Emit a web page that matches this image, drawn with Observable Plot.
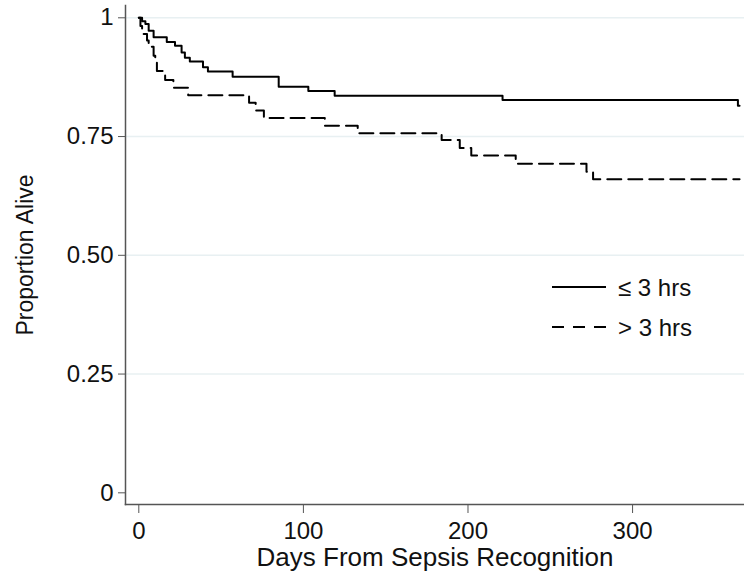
<!DOCTYPE html>
<html><head><meta charset="utf-8">
<script src="https://cdn.jsdelivr.net/npm/d3@7"></script>
<script src="https://cdn.jsdelivr.net/npm/@observablehq/plot@0.6"></script>
<style>
body{margin:0;background:#fff;}
#chart{position:relative;width:744px;height:580px;font-family:"Liberation Sans",Arial,sans-serif;}
#legend{position:absolute;left:548px;top:268px;}
</style>
</head><body><div id="chart"></div>
<script>
const groups = ["≤ 3 hrs", "> 3 hrs"];
const earlyDays = [0,2,4,6,9,17,22,26,28,31,39,42,57,85,103,119,221,364,365];
const earlySurv = [1,0.993,0.987,0.973,0.959,0.949,0.941,0.927,0.916,0.908,0.896,0.887,0.876,0.855,0.846,0.836,0.827,0.815,0.815];
const lateDays = [0,1,2,5,6,9,10,11,16,21,30,67,71,76,113,133,184,195,202,229,272,276,365];
const lateSurv = [1,0.983,0.966,0.952,0.939,0.92,0.91,0.888,0.869,0.853,0.837,0.821,0.805,0.789,0.773,0.757,0.743,0.726,0.71,0.693,0.676,0.66,0.66];
const xTicks = [0,100,200,300];
const yTicks = [0,0.25,0.5,0.75,1];
const yTickLabels = ["0","0.25","0.50","0.75","1"];
const xTitle = "Days From Sepsis Recognition";
const yTitle = "Proportion Alive";

const rows = [
  ...earlyDays.map((d,i)=>({group:groups[0], day:d, s:earlySurv[i]})),
  ...lateDays.map((d,i)=>({group:groups[1], day:d, s:lateSurv[i]}))
];

const chart = Plot.plot({
  width: 744, height: 580,
  marginLeft: 125, marginRight: 0, marginTop: 5, marginBottom: 76,
  style: {fontFamily: '"Liberation Sans", Arial, sans-serif', background: "#fff"},
  x: {domain: [-8.08, 368], ticks: xTicks},
  y: {domain: [-0.0246, 1.0259], ticks: yTicks},
  marks: [
    Plot.gridY(yTicks.filter(d=>d>0), {stroke: "#e8f0f2", strokeOpacity: 1, strokeWidth: 1.5}),
    Plot.line(rows.filter(r=>r.group===groups[0]), {x:"day", y:"s", curve:"step-after", stroke:"#000", strokeWidth:2}),
    Plot.line(rows.filter(r=>r.group===groups[1]), {x:"day", y:"s", curve:"step-after", stroke:"#000", strokeWidth:2, strokeDasharray:"14,7"}),
    Plot.frame({anchor:"left", stroke:"#555", strokeWidth:1.5}),
    Plot.frame({anchor:"bottom", stroke:"#555", strokeWidth:1.5}),
    Plot.axisY(yTicks, {tickFormat:(d)=>yTickLabels[yTicks.indexOf(d)], tickSize:7, tickPadding:5, fontSize:24, stroke:"#555", fill:"#111", label:null}),
    Plot.axisX(xTicks, {tickSize:9, tickPadding:8, fontSize:24, stroke:"#555", fill:"#111", label:null}),
    Plot.text([yTitle], {text:d=>d, frameAnchor:"left", textAnchor:"middle", rotate:-90, dx:-100, fontSize:23, fill:"#111"}),
    Plot.text([xTitle], {text:d=>d, frameAnchor:"bottom", textAnchor:"middle", dy:53, lineAnchor:"middle", fontSize:26, fill:"#111"})
  ]
});
document.getElementById("chart").appendChild(chart);

const leg = document.createElement("div");
leg.id = "legend";
leg.innerHTML = `<svg width="196" height="80" style="font-family:'Liberation Sans',Arial,sans-serif">
 <line x1="4" y1="19" x2="58" y2="19" stroke="#000" stroke-width="2"/>
 <text x="70" y="28" font-size="24" fill="#111">${groups[0]}</text>
 <line x1="4" y1="59" x2="58" y2="59" stroke="#000" stroke-width="2" stroke-dasharray="12,9"/>
 <text x="70" y="68" font-size="24" fill="#111">${groups[1]}</text>
</svg>`;
document.getElementById("chart").appendChild(leg);
</script>
</body></html>
